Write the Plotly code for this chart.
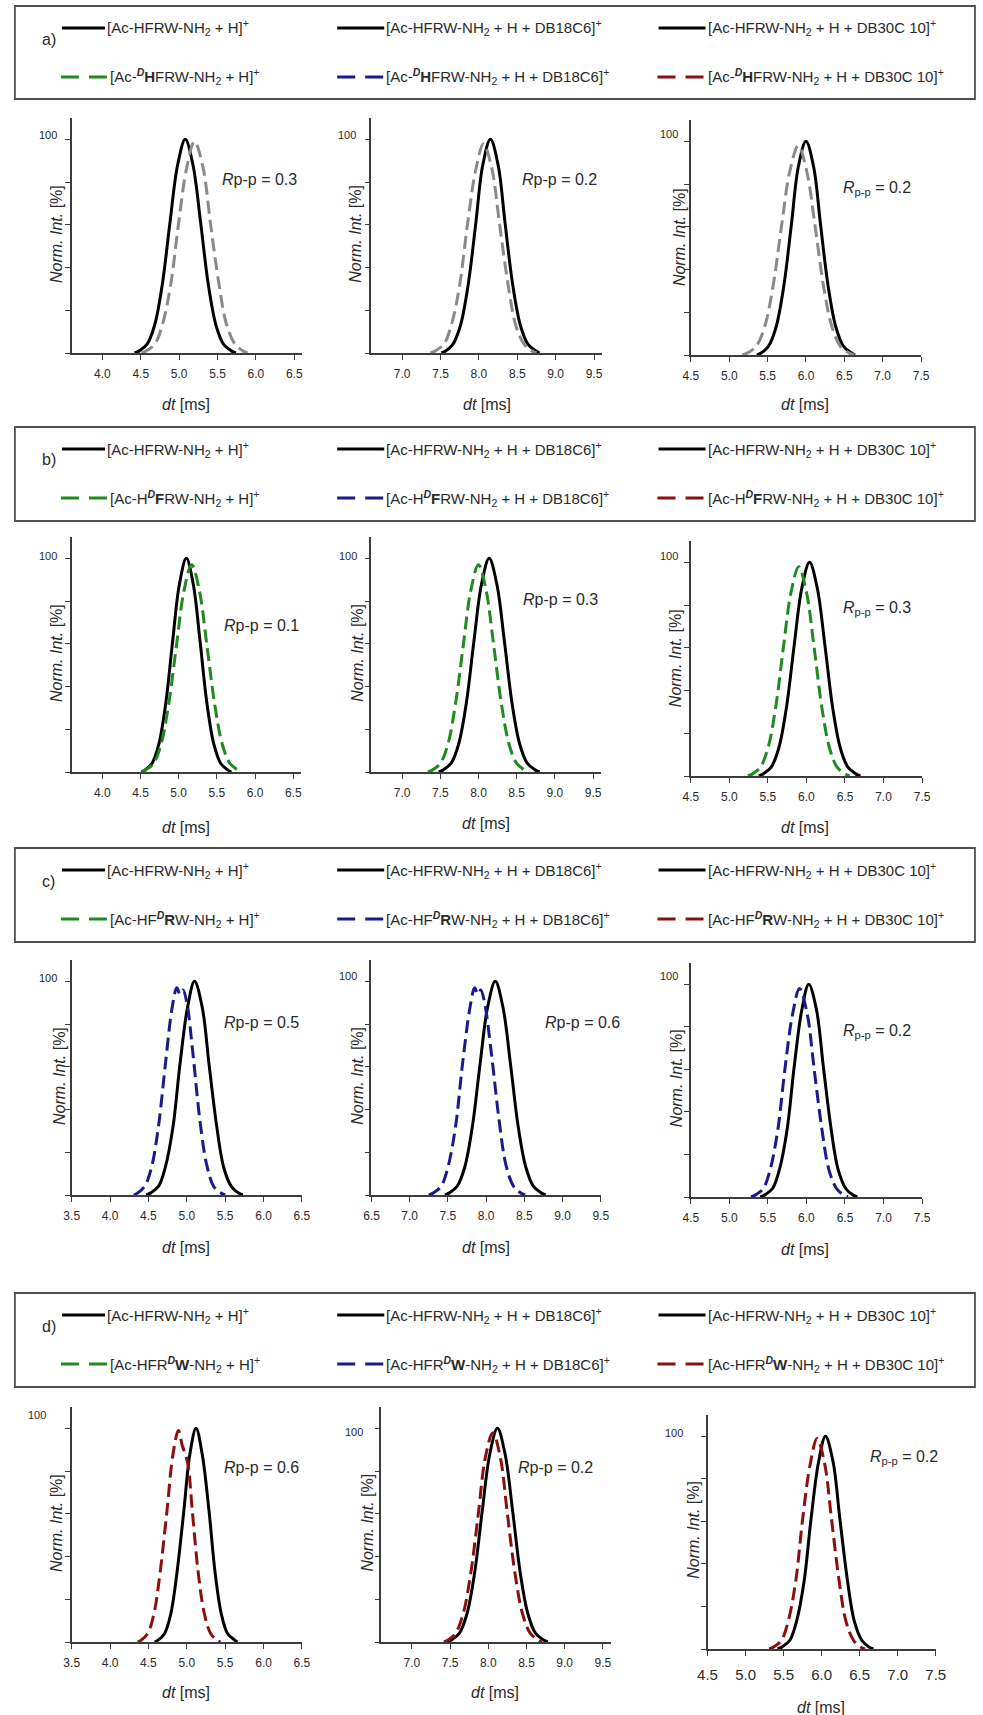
import plotly.graph_objects as go

W, H = 983, 1715
FONT = "Arial, Liberation Sans, sans-serif"


def px(x):
    return x / W


def py(y):
    return 1 - y / H


# ---------------- arrival-time distributions (dt in ms, intensity in %) ----------------
# a) Ac-HFRW-NH2 vs Ac-DHFRW-NH2
a1_ref_x = [4.42, 4.48, 4.58, 4.68, 4.78, 4.88, 4.98, 5.08, 5.18, 5.28, 5.38, 5.48, 5.58, 5.68, 5.74]
a1_ref_y = [0, 1, 4, 13, 32, 61, 88, 100, 88, 61, 32, 13, 4, 1, 0]
a1_iso_x = [4.51, 4.57, 4.68, 4.78, 4.89, 4.99, 5.10, 5.20, 5.31, 5.41, 5.52, 5.62, 5.73, 5.83, 5.89]
a1_iso_y = [0, 1, 4, 13, 32, 60, 87, 99, 87, 60, 32, 13, 4, 1, 0]

a2_ref_x = [7.51, 7.57, 7.66, 7.76, 7.86, 7.96, 8.05, 8.15, 8.25, 8.34, 8.44, 8.54, 8.64, 8.74, 8.79]
a2_ref_y = [0, 1, 4, 13, 32, 61, 88, 100, 88, 61, 32, 13, 4, 1, 0]
a2_iso_x = [7.37, 7.43, 7.54, 7.64, 7.75, 7.85, 7.96, 8.06, 8.17, 8.27, 8.38, 8.48, 8.59, 8.69, 8.75]
a2_iso_y = [0, 1, 4, 13, 32, 60, 86, 98, 86, 60, 32, 13, 4, 1, 0]

a3_ref_x = [5.36, 5.42, 5.51, 5.61, 5.71, 5.81, 5.90, 6.00, 6.10, 6.19, 6.29, 6.39, 6.49, 6.59, 6.64]
a3_ref_y = [0, 1, 4, 13, 32, 61, 88, 100, 88, 61, 32, 13, 4, 1, 0]
a3_iso_x = [5.17, 5.24, 5.35, 5.46, 5.57, 5.68, 5.79, 5.90, 6.01, 6.12, 6.23, 6.34, 6.45, 6.56, 6.63]
a3_iso_y = [0, 1, 4, 13, 32, 60, 86, 98, 86, 60, 32, 13, 4, 1, 0]

# b) Ac-HFRW-NH2 vs Ac-HDFRW-NH2
b1_ref_x = [4.51, 4.56, 4.65, 4.74, 4.83, 4.92, 5.01, 5.10, 5.19, 5.28, 5.37, 5.46, 5.55, 5.64, 5.69]
b1_ref_y = [0, 1, 4, 13, 32, 61, 88, 100, 88, 61, 32, 13, 4, 1, 0]
b1_iso_x = [4.51, 4.57, 4.67, 4.77, 4.87, 4.97, 5.07, 5.17, 5.27, 5.37, 5.47, 5.57, 5.67, 5.77, 5.83]
b1_iso_y = [0, 1, 4, 13, 32, 59, 85, 97, 85, 59, 32, 13, 4, 1, 0]

b2_ref_x = [7.48, 7.54, 7.64, 7.74, 7.84, 7.94, 8.04, 8.14, 8.24, 8.34, 8.44, 8.54, 8.64, 8.74, 8.80]
b2_ref_y = [0, 1, 4, 13, 32, 61, 88, 100, 88, 61, 32, 13, 4, 1, 0]
b2_iso_x = [7.34, 7.40, 7.50, 7.60, 7.70, 7.80, 7.90, 8.00, 8.10, 8.20, 8.30, 8.40, 8.50, 8.60, 8.66]
b2_iso_y = [0, 1, 4, 13, 32, 59, 85, 97, 85, 59, 32, 13, 4, 1, 0]

b3_ref_x = [5.38, 5.44, 5.54, 5.64, 5.74, 5.84, 5.94, 6.04, 6.14, 6.24, 6.34, 6.44, 6.54, 6.64, 6.70]
b3_ref_y = [0, 1, 4, 13, 32, 61, 88, 100, 88, 61, 32, 13, 4, 1, 0]
b3_iso_x = [5.24, 5.30, 5.40, 5.50, 5.60, 5.70, 5.80, 5.90, 6.00, 6.10, 6.20, 6.30, 6.40, 6.50, 6.56]
b3_iso_y = [0, 1, 4, 13, 32, 60, 86, 98, 86, 60, 32, 13, 4, 1, 0]

# c) Ac-HFRW-NH2 vs Ac-HFDRW-NH2
c1_ref_x = [4.47, 4.53, 4.63, 4.72, 4.82, 4.91, 5.01, 5.10, 5.20, 5.29, 5.39, 5.48, 5.58, 5.67, 5.73]
c1_ref_y = [0, 1, 4, 13, 32, 61, 88, 100, 88, 61, 32, 13, 4, 1, 0]
c1_iso_x = [4.31, 4.36, 4.45, 4.54, 4.63, 4.72, 4.81, 4.87, 4.91, 4.95, 5.00, 5.08, 5.17, 5.26, 5.35, 5.44, 5.50]
c1_iso_y = [0, 1, 4, 13, 32, 61, 88, 97, 94, 96, 90, 66, 35, 14, 4, 1, 0]

c2_ref_x = [7.46, 7.52, 7.62, 7.72, 7.82, 7.92, 8.02, 8.12, 8.22, 8.32, 8.42, 8.52, 8.62, 8.72, 8.78]
c2_ref_y = [0, 1, 4, 13, 32, 61, 88, 100, 88, 61, 32, 13, 4, 1, 0]
c2_iso_x = [7.25, 7.31, 7.41, 7.50, 7.60, 7.69, 7.79, 7.85, 7.89, 7.93, 7.98, 8.07, 8.17, 8.26, 8.36, 8.45, 8.51]
c2_iso_y = [0, 1, 4, 13, 32, 61, 88, 97, 94, 96, 90, 66, 35, 14, 4, 1, 0]

c3_ref_x = [5.40, 5.46, 5.56, 5.65, 5.75, 5.84, 5.94, 6.03, 6.13, 6.22, 6.32, 6.41, 6.51, 6.60, 6.66]
c3_ref_y = [0, 1, 4, 13, 32, 61, 88, 100, 88, 61, 32, 13, 4, 1, 0]
c3_iso_x = [5.28, 5.34, 5.44, 5.53, 5.63, 5.72, 5.82, 5.91, 6.01, 6.10, 6.20, 6.29, 6.39, 6.48, 6.54]
c3_iso_y = [0, 1, 4, 13, 32, 60, 86, 98, 86, 60, 32, 13, 4, 1, 0]

# d) Ac-HFRW-NH2 vs Ac-HFRDW-NH2
d1_ref_x = [4.58, 4.63, 4.71, 4.79, 4.87, 4.96, 5.04, 5.12, 5.20, 5.29, 5.37, 5.45, 5.53, 5.62, 5.66]
d1_ref_y = [0, 1, 4, 13, 32, 61, 88, 100, 88, 61, 32, 13, 4, 1, 0]
d1_iso_x = [4.36, 4.41, 4.49, 4.57, 4.65, 4.74, 4.82, 4.89, 4.94, 4.98, 5.02, 5.07, 5.15, 5.23, 5.31, 5.39, 5.44]
d1_iso_y = [0, 1, 4, 13, 32, 61, 88, 99, 92, 88, 82, 62, 32, 13, 4, 1, 0]

d2_ref_x = [7.46, 7.52, 7.62, 7.72, 7.82, 7.92, 8.02, 8.12, 8.22, 8.32, 8.42, 8.52, 8.62, 8.72, 8.78]
d2_ref_y = [0, 1, 4, 13, 32, 61, 88, 100, 88, 61, 32, 13, 4, 1, 0]
d2_iso_x = [7.42, 7.48, 7.57, 7.67, 7.77, 7.87, 7.96, 8.06, 8.16, 8.25, 8.35, 8.45, 8.55, 8.65, 8.70]
d2_iso_y = [0, 1, 4, 13, 32, 60, 86, 98, 86, 60, 32, 13, 4, 1, 0]

d3_ref_x = [5.42, 5.48, 5.58, 5.67, 5.77, 5.86, 5.96, 6.05, 6.15, 6.24, 6.34, 6.43, 6.53, 6.62, 6.68]
d3_ref_y = [0, 1, 4, 13, 32, 61, 88, 100, 88, 61, 32, 13, 4, 1, 0]
d3_iso_x = [5.31, 5.37, 5.47, 5.56, 5.66, 5.75, 5.85, 5.94, 6.04, 6.13, 6.23, 6.32, 6.42, 6.51, 6.57]
d3_iso_y = [0, 1, 4, 13, 32, 61, 87, 99, 87, 61, 32, 13, 4, 1, 0]

# peak-to-peak resolutions
rpp_a = ["0.3", "0.2", "0.2"]
rpp_b = ["0.1", "0.3", "0.3"]
rpp_c = ["0.5", "0.6", "0.2"]
rpp_d = ["0.6", "0.2", "0.2"]

# legend labels
ref_labels = [
    "[Ac-HFRW-NH<sub>2</sub> + H]<sup>+</sup>",
    "[Ac-HFRW-NH<sub>2</sub> + H + DB18C6]<sup>+</sup>",
    "[Ac-HFRW-NH<sub>2</sub> + H + DB30C 10]<sup>+</sup>",
]
iso_residue = {
    "a": "Ac-<sup><b><i>D</i></b></sup><b>H</b>FRW",
    "b": "Ac-H<sup><b><i>D</i></b></sup><b>F</b>RW",
    "c": "Ac-HF<sup><b><i>D</i></b></sup><b>R</b>W",
    "d": "Ac-HFR<sup><b><i>D</i></b></sup><b>W</b>",
}
iso_suffixes = [
    "-NH<sub>2</sub> + H]<sup>+</sup>",
    "-NH<sub>2</sub> + H + DB18C6]<sup>+</sup>",
    "-NH<sub>2</sub> + H + DB30C 10]<sup>+</sup>",
]

BLACK = "#000000"
GRAY = "#8a8a8a"
GREEN = "#1f8a1f"
BLUE = "#1a1a8a"
RED = "#8c0f0f"
AXIS = "#3c3c3c"
TXT = "#2a2a2a"

# ---------------- panel geometry (pixels) ----------------
panels = [
    # row a
    dict(x0=63, x1=298, yt=118, yb=353, rng=[3.6, 6.6], ref=(a1_ref_x, a1_ref_y), iso=(a1_iso_x, a1_iso_y), col=GRAY,
         lab100=(39, 135), ytit=(48, 234), dt=(180, 405), rp=(214, 180), rpp=rpp_a[0], sub=False, tf=12),
    dict(x0=369, x1=604, yt=118, yb=353, rng=[6.6, 9.6], ref=(a2_ref_x, a2_ref_y), iso=(a2_iso_x, a2_iso_y), col=GRAY,
         lab100=(344, 135), ytit=(353, 234), dt=(487, 405), rp=(521, 179), rpp=rpp_a[1], sub=False, tf=12),
    dict(x0=695, x1=930, yt=120, yb=355, rng=[4.5, 7.5], ref=(a3_ref_x, a3_ref_y), iso=(a3_iso_x, a3_iso_y), col=GRAY,
         lab100=(673, 134), ytit=(683, 237), dt=(812, 405), rp=(848, 188), rpp=rpp_a[2], sub=True, tf=12),
    # row b
    dict(x0=63, x1=297, yt=537, yb=772, rng=[3.6, 6.6], ref=(b1_ref_x, b1_ref_y), iso=(b1_iso_x, b1_iso_y), col=GREEN,
         lab100=(39, 556), ytit=(47, 653), dt=(180, 828), rp=(216, 625), rpp=rpp_b[0], sub=False, tf=12),
    dict(x0=369, x1=603, yt=537, yb=772, rng=[6.6, 9.6], ref=(b2_ref_x, b2_ref_y), iso=(b2_iso_x, b2_iso_y), col=GREEN,
         lab100=(345, 556), ytit=(354, 653), dt=(486, 823), rp=(522, 599), rpp=rpp_b[1], sub=False, tf=12),
    dict(x0=695, x1=931, yt=541, yb=776, rng=[4.5, 7.5], ref=(b3_ref_x, b3_ref_y), iso=(b3_iso_x, b3_iso_y), col=GREEN,
         lab100=(673, 556), ytit=(680, 658), dt=(812, 828), rp=(848, 608), rpp=rpp_b[2], sub=True, tf=12),
    # row c
    dict(x0=63, x1=298, yt=960, yb=1195, rng=[3.5, 6.5], ref=(c1_ref_x, c1_ref_y), iso=(c1_iso_x, c1_iso_y), col=BLUE,
         lab100=(39, 978), ytit=(50, 1076), dt=(180, 1247), rp=(216, 1022), rpp=rpp_c[0], sub=False, tf=12),
    dict(x0=369, x1=603, yt=960, yb=1195, rng=[6.5, 9.5], ref=(c2_ref_x, c2_ref_y), iso=(c2_iso_x, c2_iso_y), col=BLUE,
         lab100=(345, 976), ytit=(354, 1076), dt=(486, 1247), rp=(544, 1022), rpp=rpp_c[1], sub=False, tf=12),
    dict(x0=695, x1=931, yt=963, yb=1197, rng=[4.5, 7.5], ref=(c3_ref_x, c3_ref_y), iso=(c3_iso_x, c3_iso_y), col=BLUE,
         lab100=(673, 976), ytit=(680, 1078), dt=(812, 1249), rp=(848, 1031), rpp=rpp_c[2], sub=True, tf=12),
    # row d
    dict(x0=63, x1=298, yt=1407, yb=1642, rng=[3.5, 6.5], ref=(d1_ref_x, d1_ref_y), iso=(d1_iso_x, d1_iso_y), col=RED,
         lab100=(28, 1415), ytit=(47, 1523), dt=(180, 1692), rp=(216, 1467), rpp=rpp_d[0], sub=False, tf=12),
    dict(x0=379, x1=613, yt=1407, yb=1642, rng=[6.6, 9.6], ref=(d2_ref_x, d2_ref_y), iso=(d2_iso_x, d2_iso_y), col=RED,
         lab100=(351, 1432), ytit=(364, 1523), dt=(495, 1692), rp=(517, 1467), rpp=rpp_d[1], sub=False, tf=12),
    dict(x0=712, x1=945, yt=1415, yb=1649, rng=[4.5, 7.5], ref=(d3_ref_x, d3_ref_y), iso=(d3_iso_x, d3_iso_y), col=RED,
         lab100=(678, 1433), ytit=(697, 1530), dt=(828, 1707), rp=(876, 1457), rpp=rpp_d[2], sub=True, tf=15),
]

fig = go.Figure()
annotations = []
shapes = []
layout_axes = {}


def ann(x, y, text, size=16, xanchor="center", yanchor="middle", angle=0, color=TXT):
    annotations.append(dict(
        x=px(x), y=py(y), xref="paper", yref="paper", text=text, showarrow=False,
        xanchor=xanchor, yanchor=yanchor, textangle=angle,
        font=dict(family=FONT, size=size, color=color),
    ))


for i, p in enumerate(panels):
    n = i + 1
    xa = "x" if n == 1 else f"x{n}"
    ya = "y" if n == 1 else f"y{n}"
    xkey = "xaxis" if n == 1 else f"xaxis{n}"
    ykey = "yaxis" if n == 1 else f"yaxis{n}"

    fig.add_trace(go.Scatter(
        x=p["ref"][0], y=p["ref"][1], xaxis=xa, yaxis=ya, mode="lines",
        line=dict(color=BLACK, width=3, shape="spline", smoothing=1.0),
        showlegend=False, hoverinfo="skip",
    ))
    fig.add_trace(go.Scatter(
        x=p["iso"][0], y=p["iso"][1], xaxis=xa, yaxis=ya, mode="lines",
        line=dict(color=p["col"], width=3, dash="13px,6px", shape="spline", smoothing=1.0),
        showlegend=False, hoverinfo="skip",
    ))

    layout_axes[xkey] = dict(
        domain=[px(p["x0"]), px(p["x1"])], anchor=ya, range=p["rng"],
        showline=True, linecolor=AXIS, linewidth=1.5, showgrid=False, zeroline=False,
        ticks="outside", ticklen=5, tickwidth=1.2, tickcolor=AXIS,
        tick0=0, dtick=0.5, tickformat=".1f", ticklabelstandoff=4 if p["tf"] == 12 else 6,
        tickfont=dict(family=FONT, size=p["tf"], color=TXT),
    )
    layout_axes[ykey] = dict(
        domain=[py(p["yb"]), py(p["yt"])], anchor=xa, range=[0, 110],
        showline=True, linecolor=AXIS, linewidth=1.5, showgrid=False, zeroline=False,
        ticks="outside", ticklen=5, tickwidth=1.2, tickcolor=AXIS,
        tickvals=[0, 20, 40, 60, 80, 100], showticklabels=False,
    )

    ann(p["lab100"][0], p["lab100"][1], "100", size=11)
    ann(p["ytit"][0], p["ytit"][1], "<i>Norm. Int.</i> [%]", size=16, angle=-90)
    ann(p["dt"][0], p["dt"][1], "<i>dt</i> [ms]", size=16)
    if p["sub"]:
        rtxt = f"<i>R</i><sub>p-p</sub> = {p['rpp']}"
    else:
        rtxt = f"<i>R</i>p-p = {p['rpp']}"
    ann(p["rp"][0], p["rp"][1], rtxt, size=16, xanchor="left")

# ---------------- legend boxes ----------------
boxes = [("a", 6, 99), ("b", 427, 521), ("c", 848, 942), ("d", 1293, 1387)]
entry_line_x = [(53, 97), (334, 382), (662, 710)]
entry_dash_x = [(52, 100), (334, 382), (661, 710)]
dash_colors = [GREEN, BLUE, RED]

for key, top, bot in boxes:
    shapes.append(dict(
        type="rect", xref="paper", yref="paper",
        x0=px(5), x1=px(985), y0=py(bot), y1=py(top),
        line=dict(color="#505050", width=1.8), fillcolor="rgba(0,0,0,0)",
    ))
    ann(31, top + 33, f"{key})", size=16, xanchor="left")
    r1 = top + 22
    r2 = top + 71
    for j in range(3):
        lx0, lx1 = entry_line_x[j]
        shapes.append(dict(type="line", xref="paper", yref="paper",
                           x0=px(lx0), x1=px(lx1), y0=py(r1), y1=py(r1),
                           line=dict(color=BLACK, width=3)))
        ann(lx1, r1, ref_labels[j], size=15, xanchor="left")
        dx0, dx1 = entry_dash_x[j]
        shapes.append(dict(type="line", xref="paper", yref="paper",
                           x0=px(dx0), x1=px(dx1), y0=py(r2), y1=py(r2),
                           line=dict(color=dash_colors[j], width=3, dash="18px,10px")))
        ann(dx1, r2, "[" + iso_residue[key] + iso_suffixes[j], size=15, xanchor="left")

fig.update_layout(
    width=W, height=H, margin=dict(l=0, r=0, t=0, b=0),
    paper_bgcolor="white", plot_bgcolor="white",
    showlegend=False, annotations=annotations, shapes=shapes,
    **layout_axes,
)

fig.write_html("out.html")
